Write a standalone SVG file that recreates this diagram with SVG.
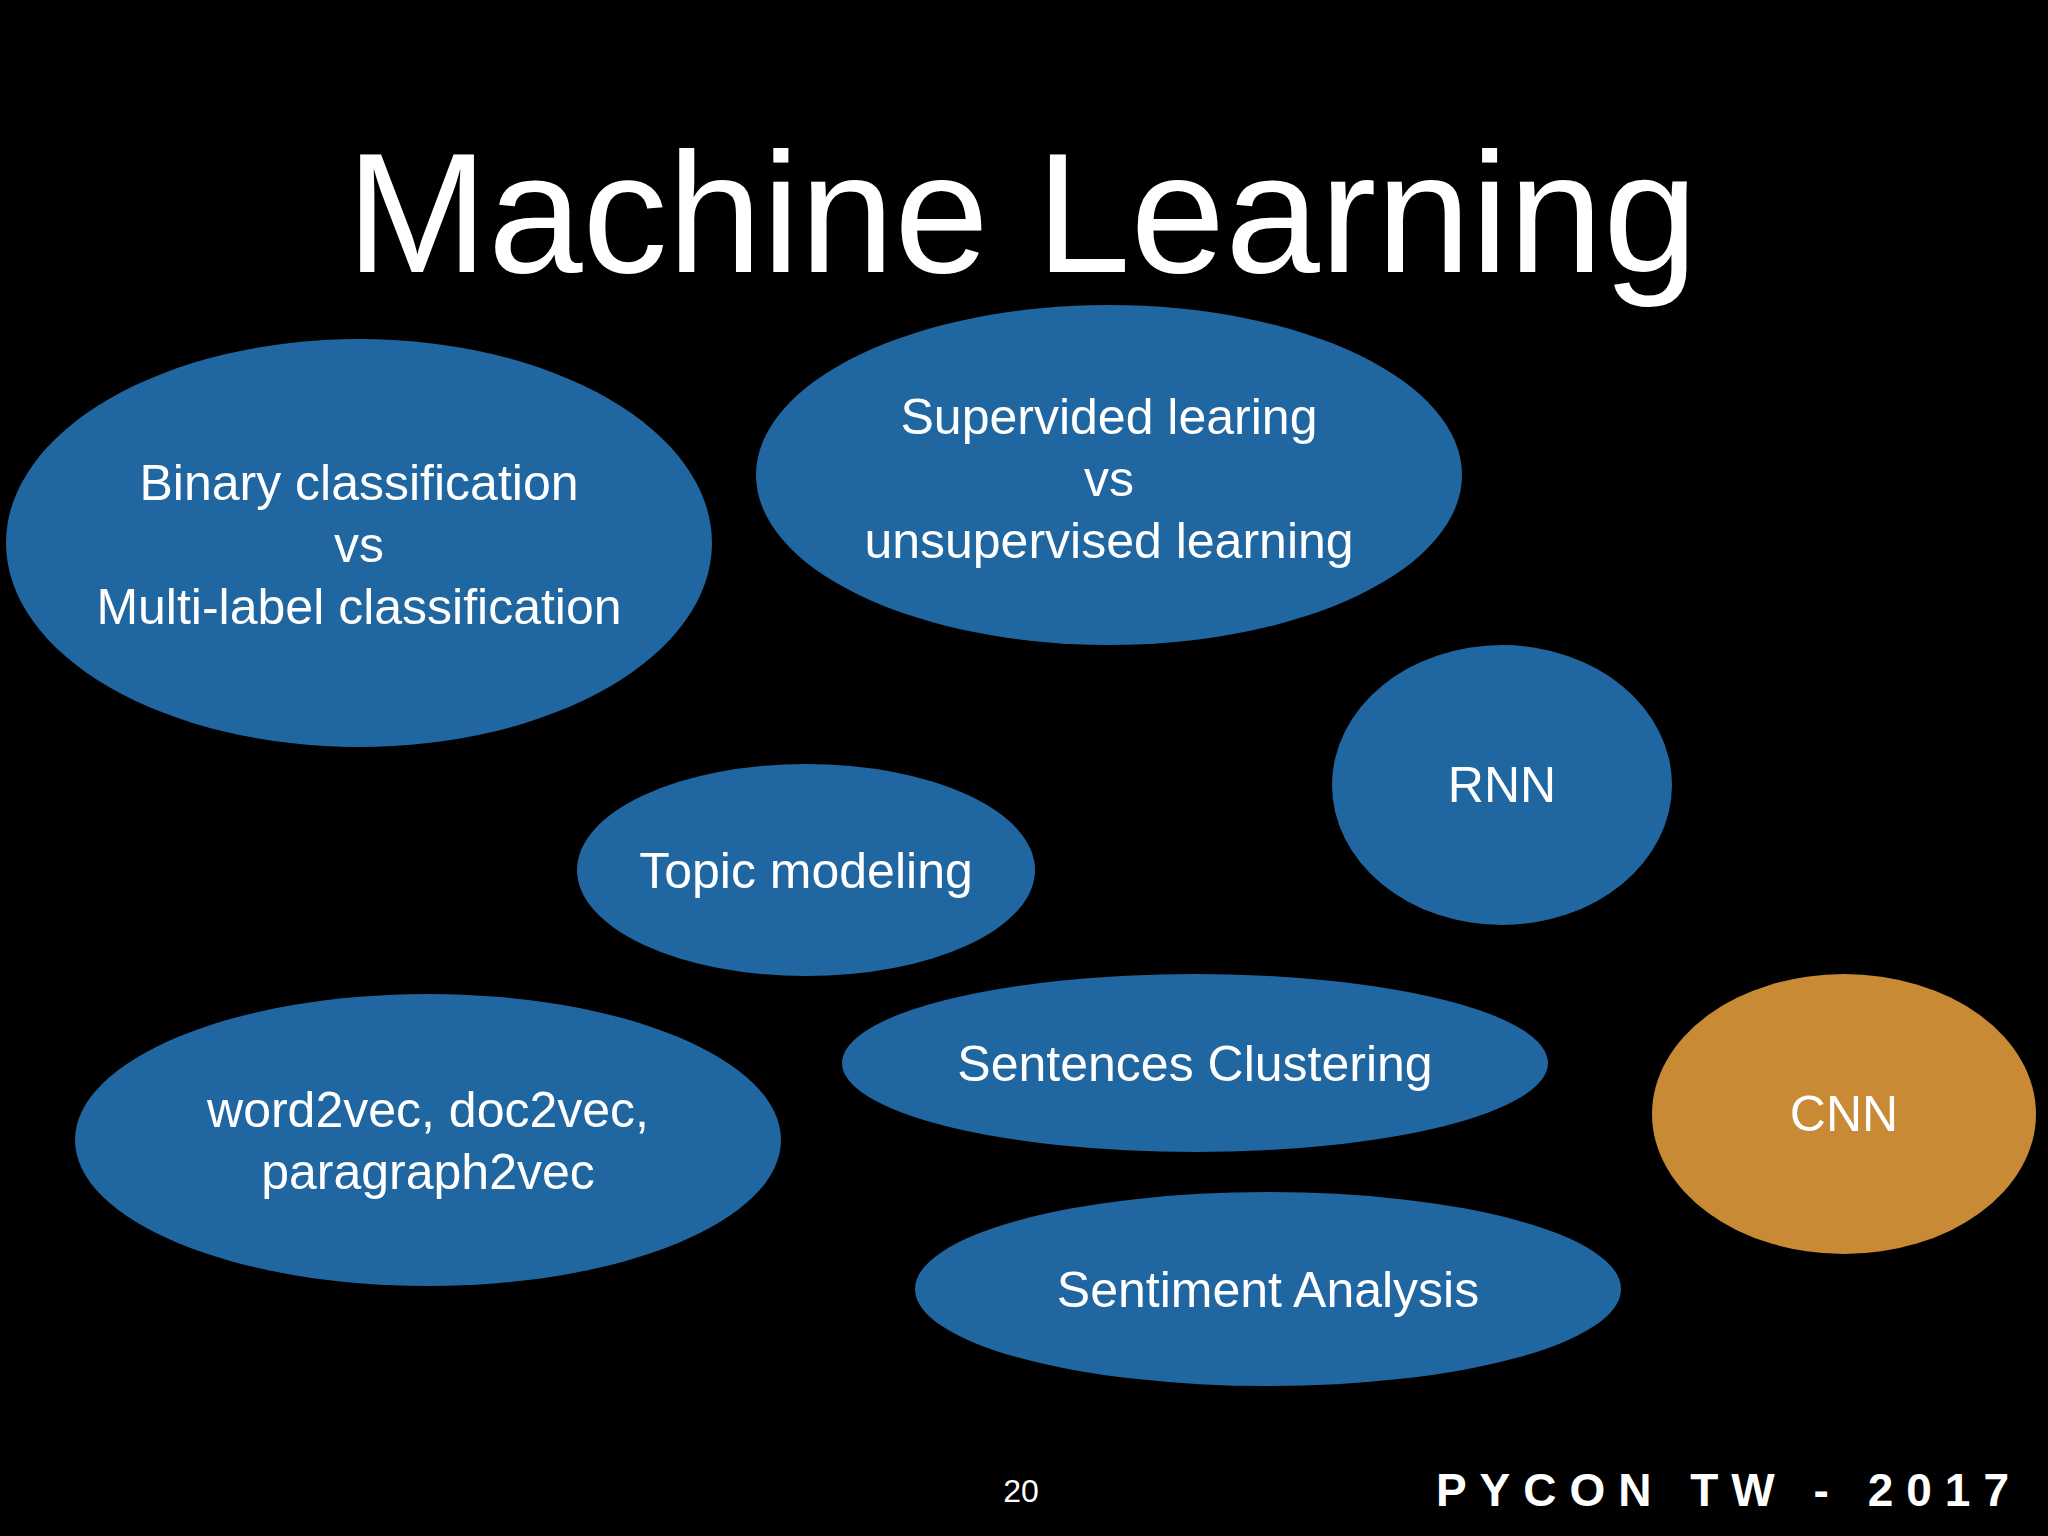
<svg xmlns="http://www.w3.org/2000/svg" width="2048" height="1536" viewBox="0 0 2048 1536">
<style>
.b{fill:#2066a0}.o{fill:#c98a35}
text{font-family:"Liberation Sans","Open Sans",sans-serif;fill:#fff}
.t{font-size:50px;text-anchor:middle}
</style>
<rect width="2048" height="1536" fill="#000"/>
<text x="1022" y="272" font-size="170" text-anchor="middle">Machine Learning</text>
<g id="binary"><ellipse class="b" cx="359" cy="543" rx="353" ry="204"/>
<text class="t" x="359" y="500">Binary classification</text><text class="t" x="359" y="562">vs</text><text class="t" x="359" y="624">Multi-label classification</text></g>
<g id="supervised"><ellipse class="b" cx="1109" cy="475" rx="353" ry="170"/>
<text class="t" x="1109" y="434">Supervided learing</text><text class="t" x="1109" y="496">vs</text><text class="t" x="1109" y="558">unsupervised learning</text></g>
<g id="rnn"><ellipse class="b" cx="1502" cy="785" rx="170" ry="140"/><text class="t" x="1502" y="802">RNN</text></g>
<g id="topic"><ellipse class="b" cx="806" cy="870" rx="229" ry="106"/><text class="t" x="806" y="888">Topic modeling</text></g>
<g id="word2vec"><ellipse class="b" cx="428" cy="1140" rx="353" ry="146"/>
<text class="t" x="428" y="1127">word2vec, doc2vec,</text><text class="t" x="428" y="1189">paragraph2vec</text></g>
<g id="clustering"><ellipse class="b" cx="1195" cy="1063" rx="353" ry="89"/><text class="t" x="1195" y="1081">Sentences Clustering</text></g>
<g id="cnn"><ellipse class="o" cx="1844" cy="1114" rx="192" ry="140"/><text class="t" x="1844" y="1131">CNN</text></g>
<g id="sentiment"><ellipse class="b" cx="1268" cy="1289" rx="353" ry="97"/><text class="t" x="1268" y="1307">Sentiment Analysis</text></g>
<g id="connectors"/>
<text x="1021" y="1502" font-size="32" text-anchor="middle">20</text>
<text x="2022" y="1506" font-size="46" font-weight="bold" letter-spacing="13" text-anchor="end">PYCON TW - 2017</text>
</svg>
